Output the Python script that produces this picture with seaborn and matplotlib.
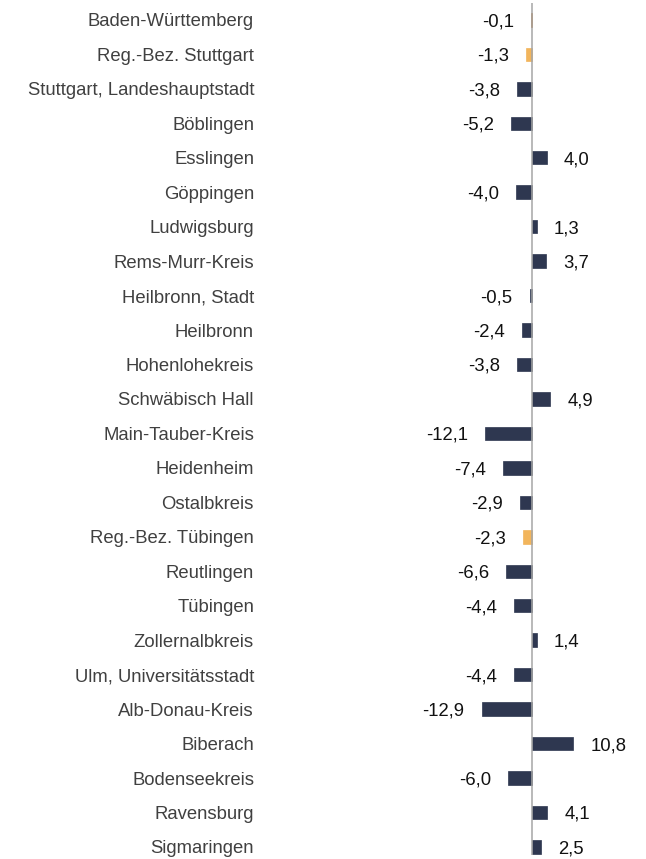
import matplotlib
matplotlib.use("Agg")
import matplotlib.pyplot as plt
import seaborn as sns
import pandas as pd

regions = [
    "Baden-Württemberg", "Reg.-Bez. Stuttgart", "Stuttgart, Landeshauptstadt",
    "Böblingen", "Esslingen", "Göppingen", "Ludwigsburg", "Rems-Murr-Kreis",
    "Heilbronn, Stadt", "Heilbronn", "Hohenlohekreis", "Schwäbisch Hall",
    "Main-Tauber-Kreis", "Heidenheim", "Ostalbkreis", "Reg.-Bez. Tübingen",
    "Reutlingen", "Tübingen", "Zollernalbkreis", "Ulm, Universitätsstadt",
    "Alb-Donau-Kreis", "Biberach", "Bodenseekreis", "Ravensburg", "Sigmaringen",
]
change = [
    -0.1, -1.3, -3.8, -5.2, 4.0, -4.0, 1.3, 3.7, -0.5, -2.4, -3.8, 4.9,
    -12.1, -7.4, -2.9, -2.3, -6.6, -4.4, 1.4, -4.4, -12.9, 10.8, -6.0, 4.1, 2.5,
]
level = [
    "land", "bezirk", "kreis", "kreis", "kreis", "kreis", "kreis", "kreis",
    "kreis", "kreis", "kreis", "kreis", "kreis", "kreis", "kreis", "bezirk",
    "kreis", "kreis", "kreis", "kreis", "kreis", "kreis", "kreis", "kreis", "kreis",
]

colors = {"land": "#B8732A", "bezirk": "#F2B55C", "kreis": "#2E3750"}

df = pd.DataFrame({"region": regions, "change": change, "level": level})

sns.set_theme(style="white")
plt.rcParams["font.family"] = ["Liberation Sans", "DejaVu Sans"]

W, H = 646, 859
fig = plt.figure(figsize=(W / 100, H / 100), dpi=100)

# axes area in pixels
left_px, right_px = 420, 630
top_px, bottom_px = 3, 855
ax = fig.add_axes([left_px / W, 1 - bottom_px / H,
                   (right_px - left_px) / W, (bottom_px - top_px) / H])

sns.barplot(data=df, y="region", x="change", hue="level", palette=colors,
            orient="h", width=0.39, dodge=False, legend=False, ax=ax,
            saturation=1, zorder=2)

# thin outline in the fill colour keeps very small bars visible
for p in ax.patches:
    p.set_edgecolor(p.get_facecolor())
    p.set_linewidth(0.5)

# zero line drawn over the bar bases
ax.axvline(0, color="#A6A6A6", lw=1.1, zorder=3)

px_per_unit = 3.87
zero_px = 531.5
ax.set_xlim(-(zero_px - left_px) / px_per_unit, (right_px - zero_px) / px_per_unit)
row_px = 34.46
n_rows = (bottom_px - top_px) / row_px
ax.set_ylim(-0.49 + n_rows, -0.49)

for s in ax.spines.values():
    s.set_visible(False)
ax.set_xticks([])
ax.set_xlabel("")
ax.set_ylabel("")
ax.tick_params(axis="y", length=0, pad=(left_px - 254) * 0.72)
fs = 13.3
for lbl in ax.get_yticklabels():
    lbl.set_fontsize(fs)
    lbl.set_color("#404040")

# value labels outside the bar ends
gap = 17 * 0.72
for i, v in enumerate(change):
    txt = f"{v:.1f}".replace(".", ",")
    ax.annotate(txt, xy=(v, i), xytext=(gap if v >= 0 else -gap, 0),
                textcoords="offset points", ha="left" if v >= 0 else "right",
                va="center_baseline", fontsize=fs, color="#111111")

fig.savefig("out.png", dpi=100, facecolor="white")
